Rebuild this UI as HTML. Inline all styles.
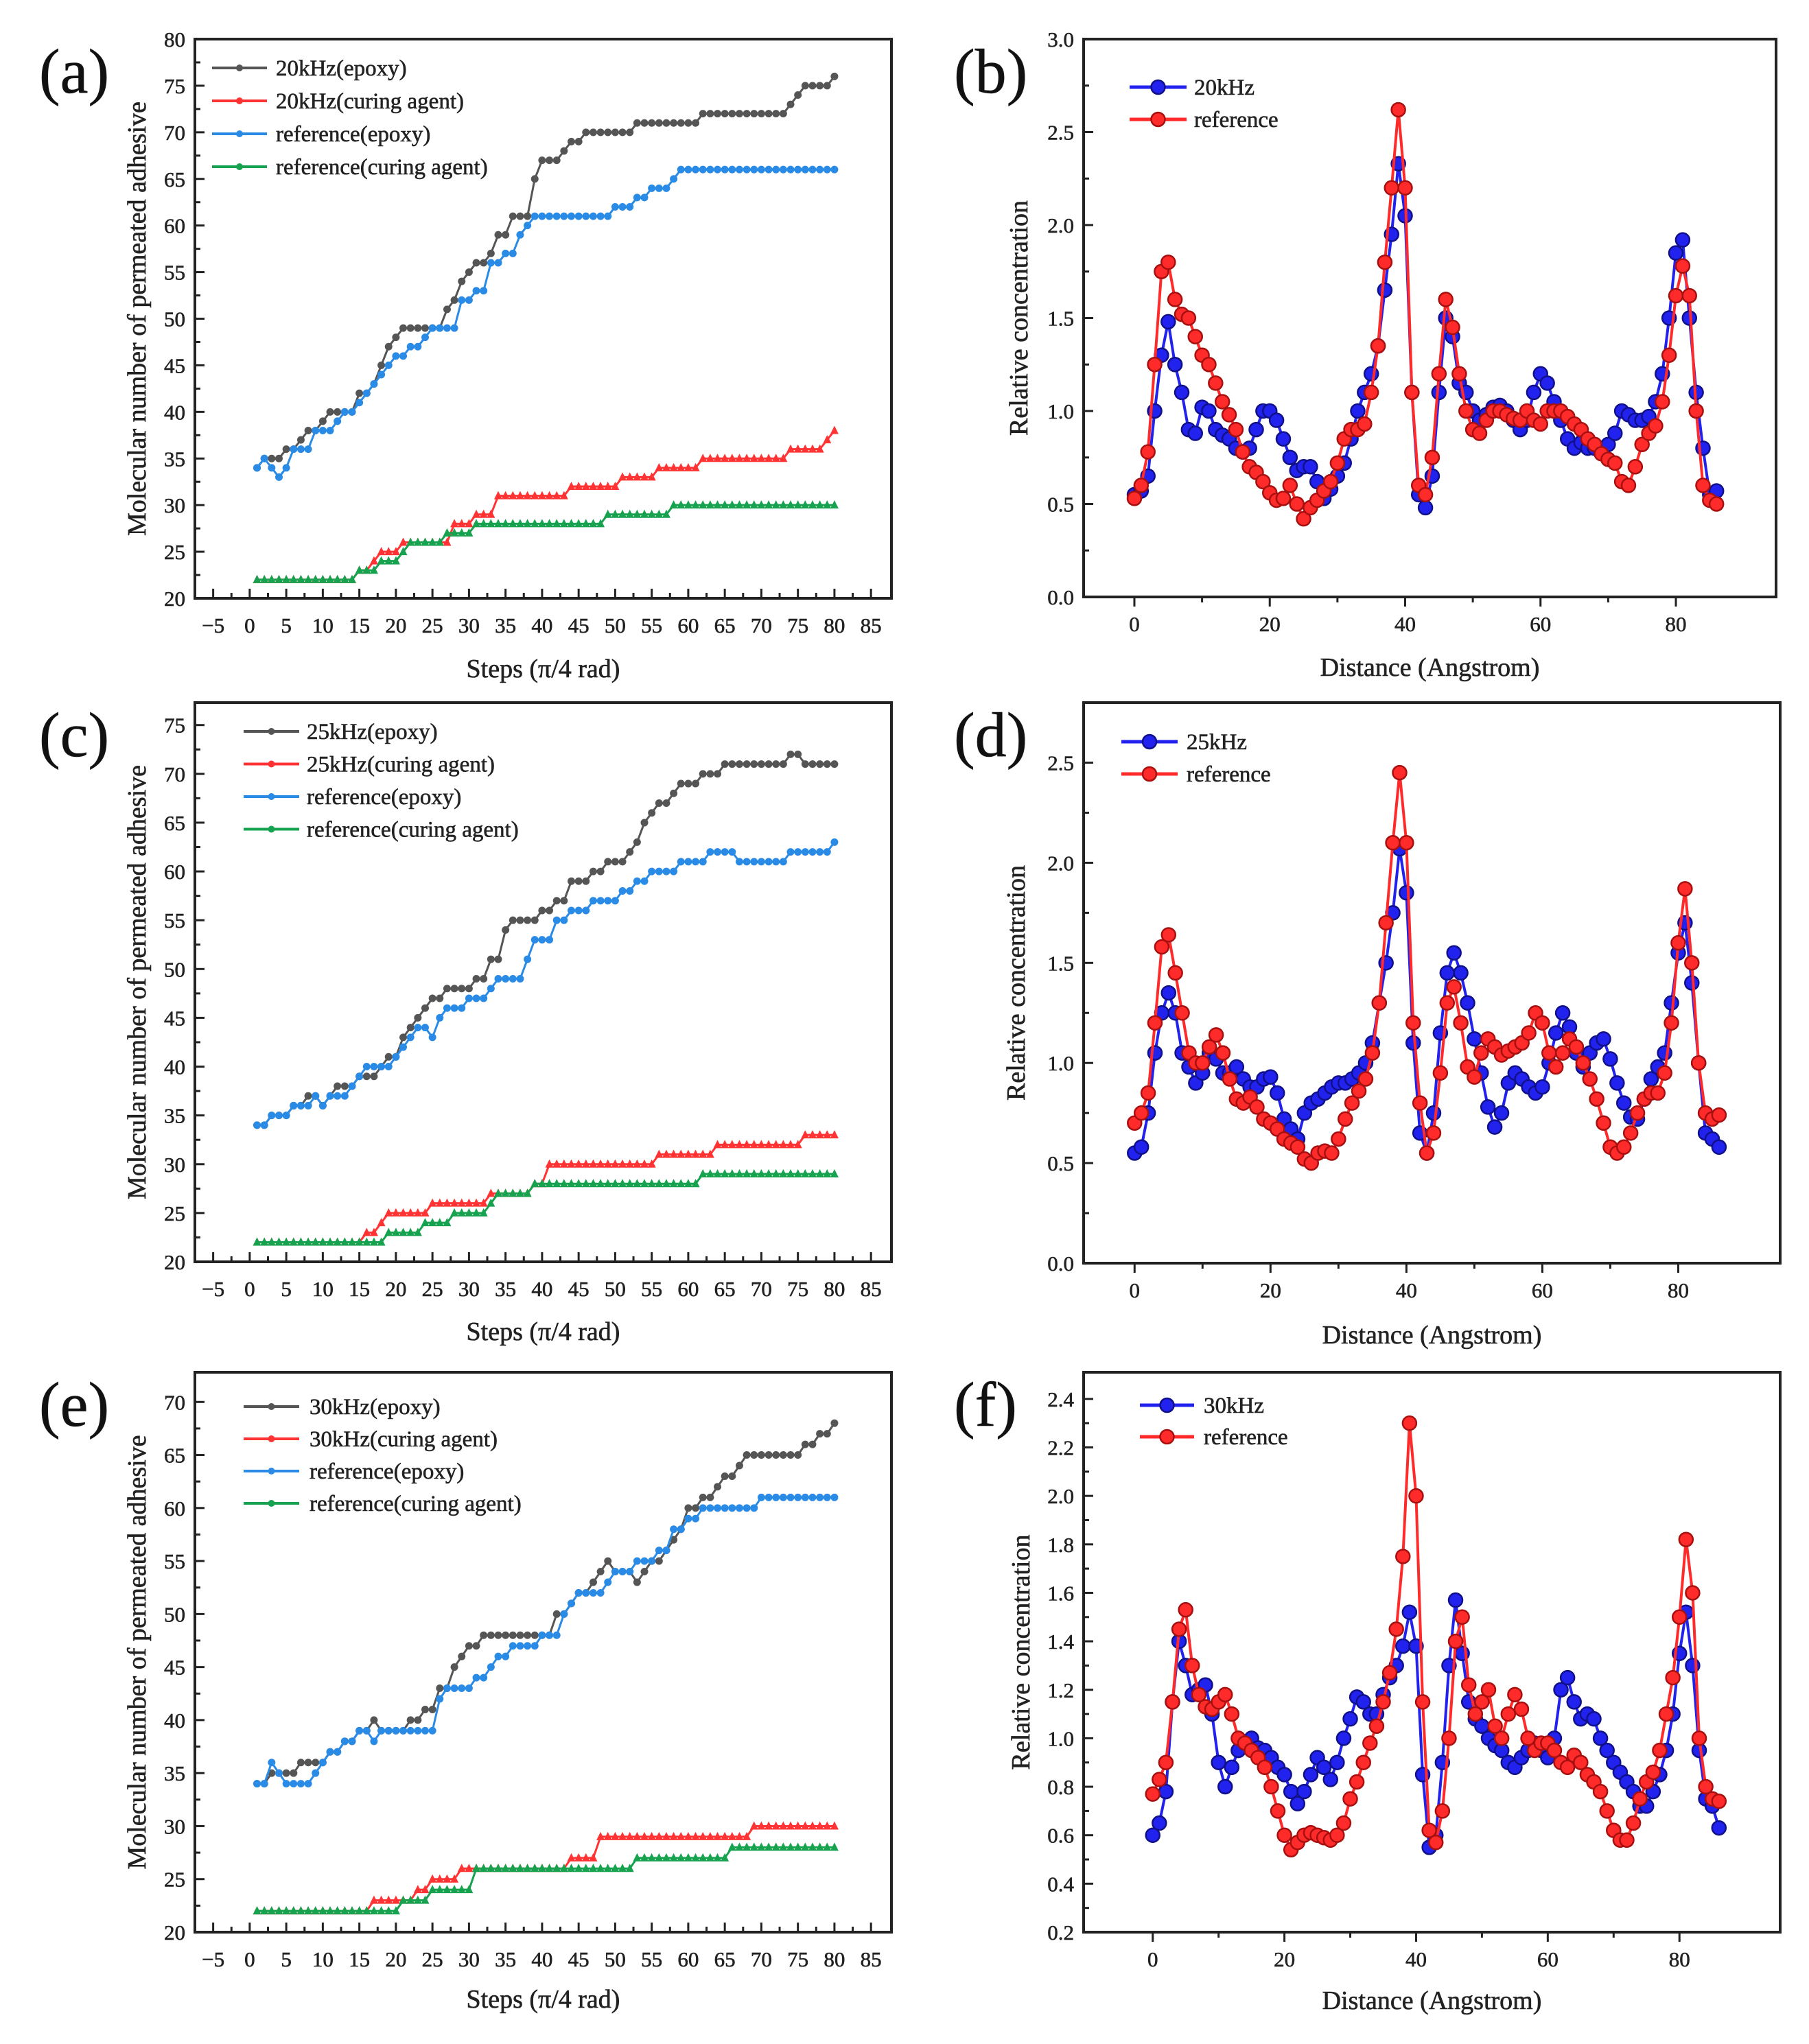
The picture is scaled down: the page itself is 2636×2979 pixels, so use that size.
<!DOCTYPE html>
<html><head><meta charset="utf-8"><style>
html,body{margin:0;padding:0;background:#fff;}
svg{display:block;font-family:"Liberation Serif",serif;}
svg text{stroke:currentColor;stroke-width:0.6px;}
</style></head>
<body>
<svg id="fig" width="2636" height="2979" viewBox="0 0 2636 2979" xmlns="http://www.w3.org/2000/svg" style="color:#222">
</svg>
<script>
// ---------- step charts data (steps 1..80) ----------
const stepsA_k20Epoxy = [34,35,35,35,36,36,37,38,38,39,40,40,40,40,42,42,43,45,47,48,49,49,49,49,49,49,51,52,54,55,56,56,57,59,59,61,61,61,65,67,67,67,68,69,69,70,70,70,70,70,70,70,71,71,71,71,71,71,71,71,71,72,72,72,72,72,72,72,72,72,72,72,72,73,74,75,75,75,75,76];
const stepsA_k20Cure = [22,22,22,22,22,22,22,22,22,22,22,22,22,22,23,23,24,25,25,25,26,26,26,26,26,26,26,28,28,28,29,29,29,31,31,31,31,31,31,31,31,31,31,32,32,32,32,32,32,32,33,33,33,33,33,34,34,34,34,34,34,35,35,35,35,35,35,35,35,35,35,35,35,36,36,36,36,36,37,38];
const stepsA_refEpoxy = [34,35,34,33,34,36,36,36,38,38,38,39,40,40,41,42,43,44,45,46,46,47,47,48,49,49,49,49,52,52,53,53,56,56,57,57,59,60,61,61,61,61,61,61,61,61,61,61,61,62,62,62,63,63,64,64,64,65,66,66,66,66,66,66,66,66,66,66,66,66,66,66,66,66,66,66,66,66,66,66];
const stepsA_refCure = [22,22,22,22,22,22,22,22,22,22,22,22,22,22,23,23,23,24,24,24,25,26,26,26,26,26,27,27,27,27,28,28,28,28,28,28,28,28,28,28,28,28,28,28,28,28,28,28,29,29,29,29,29,29,29,29,29,30,30,30,30,30,30,30,30,30,30,30,30,30,30,30,30,30,30,30,30,30,30,30];

const stepsC_k25Epoxy = [34,34,35,35,35,36,36,37,37,36,37,38,38,38,39,39,39,40,41,41,43,44,45,46,47,47,48,48,48,48,49,49,51,51,54,55,55,55,55,56,56,57,57,59,59,59,60,60,61,61,61,62,63,65,66,67,67,68,69,69,69,70,70,70,71,71,71,71,71,71,71,71,71,72,72,71,71,71,71,71];
const stepsC_k25Cure = [22,22,22,22,22,22,22,22,22,22,22,22,22,22,22,23,23,24,25,25,25,25,25,25,26,26,26,26,26,26,26,26,27,27,27,27,27,27,28,28,30,30,30,30,30,30,30,30,30,30,30,30,30,30,30,31,31,31,31,31,31,31,31,32,32,32,32,32,32,32,32,32,32,32,32,33,33,33,33,33];
const stepsC_refEpoxy = [34,34,35,35,35,36,36,36,37,36,37,37,37,38,39,40,40,40,40,41,42,43,44,44,43,45,46,46,46,47,47,47,48,49,49,49,49,51,53,53,53,55,55,56,56,56,57,57,57,57,58,58,59,59,60,60,60,60,61,61,61,61,62,62,62,62,61,61,61,61,61,61,61,62,62,62,62,62,62,63];
const stepsC_refCure = [22,22,22,22,22,22,22,22,22,22,22,22,22,22,22,22,22,22,23,23,23,23,23,24,24,24,24,25,25,25,25,25,26,27,27,27,27,27,28,28,28,28,28,28,28,28,28,28,28,28,28,28,28,28,28,28,28,28,28,28,28,29,29,29,29,29,29,29,29,29,29,29,29,29,29,29,29,29,29,29];

const stepsE_k30Epoxy = [34,34,35,35,35,35,36,36,36,36,37,37,38,38,39,39,40,39,39,39,39,40,40,41,41,43,43,45,46,47,47,48,48,48,48,48,48,48,48,48,48,50,50,51,52,52,53,54,55,54,54,54,53,54,55,55,56,57,58,60,60,61,61,62,63,63,64,65,65,65,65,65,65,65,65,66,66,67,67,68];
const stepsE_k30Cure = [22,22,22,22,22,22,22,22,22,22,22,22,22,22,22,22,23,23,23,23,23,23,24,24,25,25,25,25,26,26,26,26,26,26,26,26,26,26,26,26,26,26,26,27,27,27,27,29,29,29,29,29,29,29,29,29,29,29,29,29,29,29,29,29,29,29,29,29,30,30,30,30,30,30,30,30,30,30,30,30];
const stepsE_refEpoxy = [34,34,36,35,34,34,34,34,35,36,37,37,38,38,39,39,38,39,39,39,39,39,39,39,39,42,43,43,43,43,44,44,45,46,46,47,47,47,47,48,48,48,50,51,52,52,52,52,53,54,54,54,55,55,55,56,56,58,58,59,59,60,60,60,60,60,60,60,60,61,61,61,61,61,61,61,61,61,61,61];
const stepsE_refCure = [22,22,22,22,22,22,22,22,22,22,22,22,22,22,22,22,22,22,22,22,23,23,23,23,24,24,24,24,24,24,26,26,26,26,26,26,26,26,26,26,26,26,26,26,26,26,26,26,26,26,26,26,27,27,27,27,27,27,27,27,27,27,27,27,27,28,28,28,28,28,28,28,28,28,28,28,28,28,28,28];

// ---------- concentration profiles (distance 0..86 Å) ----------
const concB_20kHz = [0.55,0.57,0.65,1.0,1.3,1.48,1.25,1.1,0.9,0.88,1.02,1.0,0.9,0.87,0.85,0.8,0.78,0.8,0.9,1.0,1.0,0.95,0.85,0.75,0.68,0.7,0.7,0.62,0.53,0.58,0.65,0.72,0.85,1.0,1.1,1.2,1.35,1.65,1.95,2.33,2.05,1.1,0.55,0.48,0.65,1.1,1.5,1.4,1.15,1.1,1.0,0.95,0.98,1.02,1.03,1.0,0.95,0.9,0.95,1.1,1.2,1.15,1.05,0.95,0.85,0.8,0.83,0.8,0.8,0.8,0.82,0.88,1.0,0.98,0.95,0.95,0.97,1.05,1.2,1.5,1.85,1.92,1.5,1.1,0.8,0.55,0.57];
const concB_ref = [0.53,0.6,0.78,1.25,1.75,1.8,1.6,1.52,1.5,1.4,1.3,1.25,1.15,1.05,0.98,0.9,0.78,0.7,0.67,0.62,0.56,0.52,0.53,0.6,0.5,0.42,0.48,0.52,0.57,0.62,0.72,0.85,0.9,0.9,0.93,1.1,1.35,1.8,2.2,2.62,2.2,1.1,0.6,0.55,0.75,1.2,1.6,1.45,1.2,1.0,0.9,0.88,0.95,1.0,1.0,0.98,0.96,0.95,1.0,0.95,0.93,1.0,1.0,1.0,0.97,0.93,0.9,0.85,0.82,0.77,0.74,0.72,0.62,0.6,0.7,0.82,0.88,0.92,1.05,1.3,1.62,1.78,1.62,1.0,0.6,0.52,0.5];
const concD_25kHz = [0.55,0.58,0.75,1.05,1.25,1.35,1.25,1.05,0.98,0.9,0.95,1.05,1.02,0.95,0.95,0.98,0.92,0.88,0.88,0.92,0.93,0.85,0.72,0.67,0.62,0.75,0.8,0.82,0.85,0.88,0.9,0.9,0.92,0.95,1.0,1.1,1.3,1.5,1.75,2.07,1.85,1.1,0.65,0.55,0.75,1.15,1.45,1.55,1.45,1.3,1.12,0.95,0.78,0.68,0.75,0.9,0.95,0.92,0.88,0.85,0.88,1.0,1.15,1.25,1.18,1.05,0.98,1.05,1.1,1.12,1.02,0.9,0.8,0.73,0.72,0.82,0.92,0.98,1.05,1.3,1.55,1.7,1.4,1.0,0.65,0.62,0.58];
const concD_ref = [0.7,0.75,0.85,1.2,1.58,1.64,1.45,1.25,1.05,1.0,1.0,1.08,1.14,1.05,0.92,0.82,0.8,0.83,0.78,0.72,0.7,0.67,0.62,0.6,0.58,0.52,0.5,0.55,0.56,0.55,0.62,0.72,0.8,0.86,0.92,1.05,1.3,1.7,2.1,2.45,2.1,1.2,0.8,0.55,0.65,0.95,1.3,1.38,1.2,0.98,0.93,1.05,1.12,1.08,1.04,1.06,1.08,1.1,1.15,1.25,1.2,1.05,0.98,1.05,1.12,1.08,1.0,0.92,0.82,0.7,0.58,0.55,0.58,0.65,0.75,0.82,0.85,0.85,0.95,1.2,1.6,1.87,1.5,1.0,0.75,0.72,0.74];
const concF_30kHz = [0.6,0.65,0.78,1.15,1.4,1.3,1.18,1.2,1.22,1.1,0.9,0.8,0.88,0.95,0.98,1.0,0.96,0.95,0.92,0.88,0.85,0.78,0.73,0.78,0.85,0.92,0.88,0.83,0.9,1.0,1.08,1.17,1.15,1.1,1.1,1.18,1.25,1.3,1.38,1.52,1.38,0.85,0.55,0.6,0.9,1.3,1.57,1.35,1.15,1.08,1.05,1.0,0.97,0.95,0.9,0.88,0.92,0.95,0.98,0.95,0.92,1.0,1.2,1.25,1.15,1.08,1.1,1.08,1.0,0.95,0.9,0.86,0.82,0.78,0.72,0.72,0.78,0.85,0.95,1.1,1.35,1.52,1.3,0.95,0.75,0.72,0.63];
const concF_ref = [0.77,0.83,0.9,1.15,1.45,1.53,1.3,1.18,1.13,1.12,1.15,1.18,1.1,1.0,0.98,0.95,0.92,0.88,0.8,0.7,0.6,0.54,0.57,0.6,0.61,0.6,0.59,0.58,0.6,0.65,0.75,0.82,0.9,0.98,1.05,1.15,1.27,1.45,1.75,2.3,2.0,1.15,0.62,0.57,0.7,1.0,1.4,1.5,1.22,1.1,1.15,1.2,1.05,1.0,1.1,1.18,1.12,1.0,0.95,0.98,0.98,0.95,0.9,0.88,0.93,0.9,0.85,0.82,0.78,0.7,0.62,0.58,0.58,0.65,0.75,0.82,0.86,0.95,1.1,1.25,1.5,1.82,1.6,1.0,0.8,0.75,0.74];

const stepTicks = [-5,0,5,10,15,20,25,30,35,40,45,50,55,60,65,70,75,80,85];
const distTicks = [0,20,40,60,80];

const NS="http://www.w3.org/2000/svg";
const svg=document.getElementById('fig');
function mk(tag,attrs,parent){const e=document.createElementNS(NS,tag);for(const k in attrs)e.setAttribute(k,attrs[k]);(parent||svg).appendChild(e);return e;}

function panel(cfg){
  const g=mk('g',{});
  
  
  const sx=v=>cfg.L+(v-cfg.x0)/(cfg.x1-cfg.x0)*(cfg.R-cfg.L);
  const sy=v=>cfg.B-(v-cfg.y0)/(cfg.y1-cfg.y0)*(cfg.B-cfg.T);
  const fr=mk('rect',{x:cfg.L,y:cfg.T,width:cfg.R-cfg.L,height:cfg.B-cfg.T,fill:'none',stroke:'#222','stroke-width':4},g);
  
  
  cfg.xt.forEach((t,i)=>{
    const x=sx(t);
    const tk=mk('line',{x1:x,x2:x,y1:cfg.B,y2:cfg.B+(cfg.out?14:-14),stroke:'#222','stroke-width':3},g);
    
    
    const lb=mk('text',{x:x,y:cfg.B+50,'font-size':31,'text-anchor':'middle',fill:'#222'},g);
    
    
    lb.textContent=t<0?'\u2212'+(-t):t;
    if(i<cfg.xt.length-1){const xm=sx((t+cfg.xt[i+1])/2);
      const mt=mk('line',{x1:xm,x2:xm,y1:cfg.B,y2:cfg.B+(cfg.out?8:-8),stroke:'#222','stroke-width':3},g);
      
      }
  });
  cfg.yt.forEach((t,i)=>{
    const y=sy(t);
    const tk=mk('line',{x1:cfg.L,x2:cfg.L+14,y1:y,y2:y,stroke:'#222','stroke-width':3},g);
    
    
    const lb=mk('text',{x:cfg.L-14,y:y+11,'font-size':31,'text-anchor':'end',fill:'#222'},g);
    
    
    lb.textContent=cfg.yfmt?t.toFixed(1):t;
    if(i<cfg.yt.length-1){const ym=sy((t+cfg.yt[i+1])/2);
      const mt=mk('line',{x1:cfg.L,x2:cfg.L+8,y1:ym,y2:ym,stroke:'#222','stroke-width':3},g);
      
      }
  });
  const xtl=mk('text',{x:(cfg.L+cfg.R)/2,y:cfg.xtY,'font-size':38,'text-anchor':'middle',fill:'#222'},g);
  
  
  xtl.textContent=cfg.xtitle;
  const ytl=mk('text',{x:0,y:0,'font-size':38,'text-anchor':'middle',fill:'#222',transform:`translate(${cfg.ytX},${(cfg.T+cfg.B)/2}) rotate(-90)`},g);
  
  
  ytl.textContent=cfg.ytitle;
  const pl=mk('text',{x:cfg.labX,y:cfg.T+78,'font-size':92,fill:'#111'},g);
  
  
  pl.textContent='('+cfg.id+')';
  cfg.series.forEach(s=>{
    const pts=s.data.map((v,i)=>[sx(s.xs(i)),sy(v)]);
    const line=mk('polyline',{points:pts.map(p=>p.join(',')).join(' '),fill:'none',stroke:s.color,'stroke-width':s.lw},g);
    
    
    pts.forEach(p=>{
      let m;
      if(s.marker==='circle'){m=mk('circle',{cx:p[0],cy:p[1],r:10,fill:s.color,stroke:s.dark,'stroke-width':2.5},g);}
      else if(s.marker==='tri'){m=mk('polygon',{points:`${p[0]},${p[1]-7} ${p[0]-6},${p[1]+5} ${p[0]+6},${p[1]+5}`,fill:s.color},g);}
      else {m=mk('circle',{cx:p[0],cy:p[1],r:5.5,fill:s.color},g);}
      
      
    });
  });
  cfg.series.forEach((s,i)=>{
    const y=cfg.leg.y+i*cfg.leg.dy;
    const ll=mk('line',{x1:cfg.leg.x1,x2:cfg.leg.x2,y1:y,y2:y,stroke:s.color,'stroke-width':s.lw+1},g);
    
    
    const xm=(cfg.leg.x1+cfg.leg.x2)/2;
    const lm=s.marker==='circle'?mk('circle',{cx:xm,cy:y,r:10,fill:s.color,stroke:s.dark,'stroke-width':2.5},g):mk('circle',{cx:xm,cy:y,r:5,fill:s.color},g);
    
    
    const lt=mk('text',{x:cfg.leg.tx,y:y+11,'font-size':33,fill:'#222'},g);
    
    
    lt.textContent=s.label;
  });
}
const stepX=i=>i+1, distX=i=>i;
function stepSeries(f,arr){return [
 {key:'freq-epoxy',label:f+'(epoxy)',data:arr[0],xs:stepX,color:'#555555',lw:3,marker:'dot'},
 {key:'freq-curing',label:f+'(curing agent)',data:arr[1],xs:stepX,color:'#ff3333',lw:3,marker:'tri'},
 {key:'ref-epoxy',label:'reference(epoxy)',data:arr[2],xs:stepX,color:'#2a8be6',lw:3,marker:'dot'},
 {key:'ref-curing',label:'reference(curing agent)',data:arr[3],xs:stepX,color:'#16a24e',lw:3,marker:'tri'}];}
function concSeries(f,a,b){return [
 {key:'freq',label:f,data:a,xs:distX,color:'#2222ee',dark:'#10108a',lw:4,marker:'circle'},
 {key:'reference',label:'reference',data:b,xs:distX,color:'#ff2a2a',dark:'#a81010',lw:4,marker:'circle'}];}
const ST='Steps (\u03c0/4 rad)', SY='Molecular number of permeated adhesive';
const DT='Distance (Angstrom)', DY='Relative concentration';
const r=(a,b,s)=>{const o=[];for(let v=a;v<=b+1e-9;v+=s)o.push(Math.round(v*10)/10);return o;};

panel({id:'a',L:284,R:1299,T:57,B:872,x0:-7.5,x1:87.8,y0:20,y1:80,xt:stepTicks,yt:r(20,80,5),xtitle:ST,ytitle:SY,xtY:987,ytX:212,labX:57,
 leg:{x1:309,x2:389,tx:402,y:99,dy:48},series:stepSeries('20kHz',[stepsA_k20Epoxy,stepsA_k20Cure,stepsA_refEpoxy,stepsA_refCure])});
panel({id:'b',L:1579,R:2588,T:57,B:870,x0:-7.5,x1:94.8,y0:0,y1:3,xt:distTicks,yt:r(0,3,0.5),yfmt:1,out:1,xtitle:DT,ytitle:DY,xtY:985,ytX:1497,labX:1390,
 leg:{x1:1646,x2:1729,tx:1740,y:127,dy:47},series:concSeries('20kHz',concB_20kHz,concB_ref)});
panel({id:'c',L:284,R:1299,T:1024,B:1839,x0:-7.5,x1:87.8,y0:20,y1:77.3,xt:stepTicks,yt:r(20,75,5),xtitle:ST,ytitle:SY,xtY:1953,ytX:212,labX:57,
 leg:{x1:355,x2:436,tx:447,y:1066,dy:47.5},series:stepSeries('25kHz',[stepsC_k25Epoxy,stepsC_k25Cure,stepsC_refEpoxy,stepsC_refCure])});
panel({id:'d',L:1579,R:2594,T:1024,B:1841,x0:-7.5,x1:95,y0:0,y1:2.8,xt:distTicks,yt:r(0,2.5,0.5),yfmt:1,out:1,xtitle:DT,ytitle:DY,xtY:1958,ytX:1493,labX:1390,
 leg:{x1:1634,x2:1716,tx:1729,y:1081,dy:47},series:concSeries('25kHz',concD_25kHz,concD_ref)});
panel({id:'e',L:284,R:1299,T:2000,B:2816,x0:-7.5,x1:87.8,y0:20,y1:72.8,xt:stepTicks,yt:r(20,70,5),xtitle:ST,ytitle:SY,xtY:2926,ytX:212,labX:57,
 leg:{x1:355,x2:436,tx:451,y:2050,dy:47},series:stepSeries('30kHz',[stepsE_k30Epoxy,stepsE_k30Cure,stepsE_refEpoxy,stepsE_refCure])});
panel({id:'f',L:1579,R:2594,T:2000,B:2816,x0:-10.5,x1:95.3,y0:0.2,y1:2.51,xt:distTicks,yt:r(0.2,2.4,0.2),yfmt:1,out:1,xtitle:DT,ytitle:DY,xtY:2928,ytX:1500,labX:1390,
 leg:{x1:1661,x2:1740,tx:1754,y:2048,dy:46},series:concSeries('30kHz',concF_30kHz,concF_ref)});
</script>
</body></html>
